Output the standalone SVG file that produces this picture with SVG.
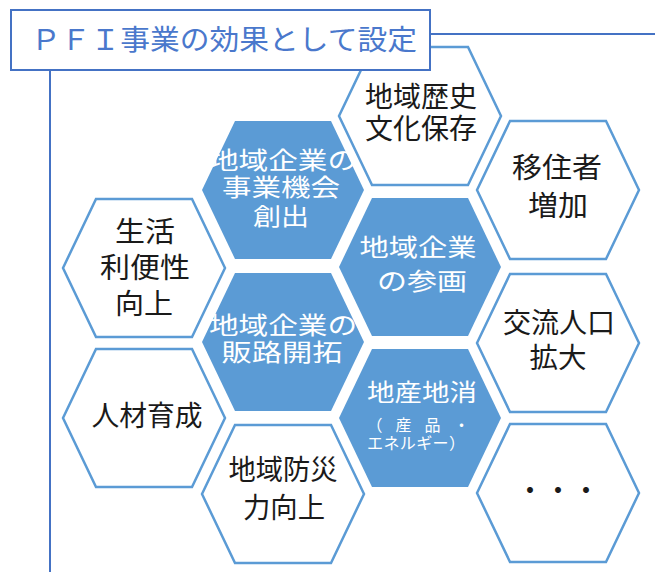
<svg xmlns="http://www.w3.org/2000/svg" width="655" height="572" viewBox="0 0 655 572">
<style>
.hx{fill:#fff;stroke:#5B9BD5;stroke-width:2.5}
.hb{fill:#5B9BD5;stroke:none}
.t{font-family:"Noto Sans CJK JP","Noto Sans CJK SC",sans-serif;font-size:28px;fill:#1a1a1a;text-anchor:middle}
.w{font-family:"Noto Sans CJK JP","Noto Sans CJK SC",sans-serif;font-size:24px;fill:#fff;text-anchor:middle}
.s{font-size:16px}
.ln{stroke:#4472C4;stroke-width:2;fill:none}
</style>
<defs>
<polygon id="hex" points="-81,0 -48,-69 48,-69 81,0 48,69 -48,69"/>
</defs>
<rect width="655" height="572" fill="#fff"/>
<g id="connectors">
<line class="ln" x1="430" y1="34" x2="655" y2="34"/>
<line class="ln" x1="50" y1="70" x2="50" y2="572"/>
</g>
<g id="n-rekishi">
<use href="#hex" class="hx" x="420" y="116"/>
<text class="t" x="421" y="106.6" textLength="112" lengthAdjust="spacingAndGlyphs">地域歴史</text>
<text class="t" x="421" y="138.6" textLength="112" lengthAdjust="spacingAndGlyphs">文化保存</text>
</g>
<g id="n-ijusha">
<use href="#hex" class="hx" x="558" y="190"/>
<text class="t" x="557" y="177.6" textLength="90" lengthAdjust="spacingAndGlyphs">移住者</text>
<text class="t" x="558" y="215.6" textLength="60" lengthAdjust="spacingAndGlyphs">増加</text>
</g>
<g id="n-seikatsu">
<use href="#hex" class="hx" x="144" y="268"/>
<text class="t" x="145" y="241.6" textLength="60" lengthAdjust="spacingAndGlyphs">生活</text>
<text class="t" x="145" y="277.6" textLength="90" lengthAdjust="spacingAndGlyphs">利便性</text>
<text class="t" x="144" y="313.6" textLength="58" lengthAdjust="spacingAndGlyphs">向上</text>
</g>
<g id="n-jinzai">
<use href="#hex" class="hx" x="144" y="418"/>
<text class="t" x="147" y="425.6" textLength="111" lengthAdjust="spacingAndGlyphs">人材育成</text>
</g>
<g id="n-jigyo">
<use href="#hex" class="hb" x="283" y="190"/>
<text class="w" x="283" y="169.1" textLength="148" lengthAdjust="spacingAndGlyphs">地域企業の</text>
<text class="w" x="281" y="196.1" textLength="118" lengthAdjust="spacingAndGlyphs">事業機会</text>
<text class="w" x="281" y="225.1" textLength="56" lengthAdjust="spacingAndGlyphs">創出</text>
</g>
<g id="n-hanro">
<use href="#hex" class="hb" x="283" y="342"/>
<text class="w" x="283" y="334.1" textLength="148" lengthAdjust="spacingAndGlyphs">地域企業の</text>
<text class="w" x="282" y="361.1" textLength="121" lengthAdjust="spacingAndGlyphs">販路開拓</text>
</g>
<g id="n-bousai">
<use href="#hex" class="hx" x="283" y="494"/>
<text class="t" x="283" y="479.6" textLength="109" lengthAdjust="spacingAndGlyphs">地域防災</text>
<text class="t" x="284" y="517.6" textLength="82" lengthAdjust="spacingAndGlyphs">力向上</text>
</g>
<g id="n-sankaku">
<use href="#hex" class="hb" x="420" y="267"/>
<text class="w" x="418" y="256.1" textLength="117" lengthAdjust="spacingAndGlyphs">地域企業</text>
<text class="w" x="422" y="290.1" textLength="90" lengthAdjust="spacingAndGlyphs">の参画</text>
</g>
<g id="n-chisan">
<use href="#hex" class="hb" x="420" y="418"/>
<text class="w" x="422" y="401.1" textLength="110" lengthAdjust="spacingAndGlyphs">地産地消</text>
<text class="w s" x="418" y="431" textLength="103" lengthAdjust="spacing">（産品・</text>
<text class="w s" x="416" y="449" textLength="98" lengthAdjust="spacing">エネルギー）</text>
</g>
<g id="n-koryu">
<use href="#hex" class="hx" x="558" y="343"/>
<text class="t" x="559" y="332.6" textLength="112" lengthAdjust="spacingAndGlyphs">交流人口</text>
<text class="t" x="558" y="367.6" textLength="57" lengthAdjust="spacingAndGlyphs">拡大</text>
</g>
<g id="n-etc">
<use href="#hex" class="hx" x="558" y="493"/>
<text class="t" x="558" y="501" style="font-size:28px">・・・</text>
</g>
<g id="title">
<rect x="11" y="10" width="419" height="60" fill="#fff" stroke="#4472C4" stroke-width="2"/>
<text x="31" y="50" textLength="386" lengthAdjust="spacingAndGlyphs" style="font-family:'Noto Sans CJK JP','Noto Sans CJK SC',sans-serif;font-size:28px;fill:#4a78cc">ＰＦＩ事業の効果として設定</text>
</g>
</svg>
